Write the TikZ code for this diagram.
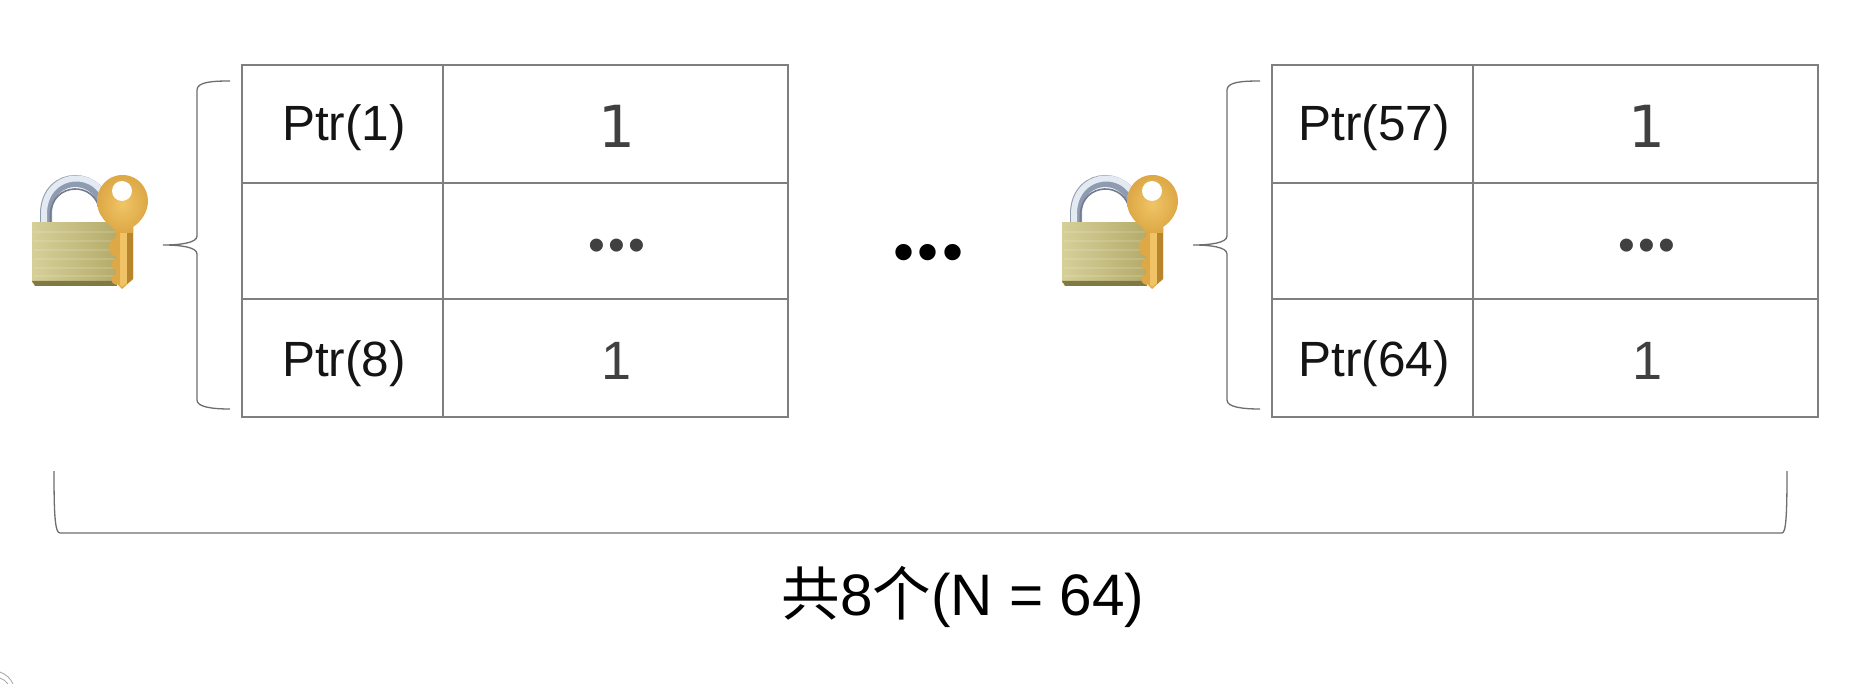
\documentclass[tikz,border=0pt]{standalone}
\usepackage{fontspec}
\setmainfont{Liberation Sans}
\newfontfamily\cjkfont{Noto Sans CJK SC}
\newfontfamily\dejafont{DejaVu Sans}
\usetikzlibrary{calc}
\definecolor{rulegrey}{HTML}{7F7F7F}
\definecolor{bracegrey}{HTML}{6E6E6E}
\definecolor{ink}{HTML}{404040}
\definecolor{goldA}{HTML}{F0C466}
\definecolor{goldB}{HTML}{DDA845}
\definecolor{goldC}{HTML}{B9852C}
\definecolor{brassA}{HTML}{D6CF98}
\definecolor{brassB}{HTML}{B4AB6A}
\definecolor{brassC}{HTML}{7F7A45}
\definecolor{steelA}{HTML}{E4EAF2}
\definecolor{steelB}{HTML}{8E9BB0}
\tikzset{
  x=1pt,y=-1pt,
  cell/.style={draw=none,inner sep=0pt,anchor=center},
  gridline/.style={draw=rulegrey,line width=1.5pt},
  bracket/.style={draw=bracegrey,line width=1.3pt},
  ptrtext/.style={cell,font=\fontsize{49.5}{49.5}\selectfont,text=black!92},
  bigone/.style={cell,font=\dejafont\fontsize{58}{58}\selectfont,text=ink},
  smallone/.style={cell,font=\fontsize{54}{54}\selectfont,text=ink},
  cdots/.style={cell,font=\fontsize{48}{48}\selectfont,text=ink},
  lockpic/.pic={
    % shackle
    \draw[line width=12pt,draw=steelB,line cap=butt] (46,226) -- (46,214) .. controls (46,170) and (104,170) .. (106,214);
    \draw[line width=6pt,draw=steelA,line cap=butt] (44,226) -- (44,214) .. controls (44,168) and (106,166) .. (108,212);
    \draw[line width=1.6pt,draw=steelB!80!black] (50.5,226) -- (50.5,214) .. controls (52,182) and (96,180) .. (100,212);
    % body
    \shade[left color=brassA,right color=brassB] (32,223) -- (117,223) -- (117,283) -- (32,283) -- cycle;
    \foreach \yy in {232,241,250,259,268,276}{\draw[white,opacity=.13,line width=1.2pt] (34,\yy) -- (115,\yy);}
    \fill[brassC] (32,281) -- (117,281) -- (117,286) -- (35,286) -- cycle;
    % teeth and key shaft
    \fill[goldB] (117,237) .. controls (106,240) and (106,254) .. (117,257) -- cycle;
    \fill[goldB] (117,259) .. controls (109,261) and (109,268) .. (117,270) -- cycle;
    \fill[goldB] (117,274) .. controls (109,276) and (109,283) .. (117,285) -- cycle;
    \fill[goldB] (116,225) -- (133,225) -- (133,279) -- (122,289) -- (116,283) -- cycle;
    \fill[goldA] (120,228) -- (127,228) -- (127,283) -- (122,287) -- (120,285) -- cycle;
    \fill[goldC] (127,228) -- (133,228) -- (133,279) -- (127,284) -- cycle;
    % key head
    \shade[inner color=goldA,outer color=goldB] (122.5,175) .. controls (138,175) and (148,188) .. (148,201) .. controls (148,212) and (141,222) .. (133,227) -- (133,233) -- (116,233) -- (112,227) .. controls (104,222) and (97,212) .. (97,201) .. controls (97,188) and (107,175) .. (122.5,175) -- cycle;
    \fill[white] (122,191) circle[radius=10pt];
  }
}
\begin{document}
\begin{tikzpicture}
\useasboundingbox (0,0) rectangle (1852,684);
\fill[white] (0,0) rectangle (1852,684);
\foreach \tag/\ox/\toptxt/\bottxt in {a/0/Ptr(1)/Ptr(8),b/1030/Ptr(57)/Ptr(64)}{
  \coordinate (\tag tl) at (242+\ox,65);
  \coordinate (\tag br) at (788+\ox,417);
  \draw[gridline,line join=miter] (\tag tl) rectangle (\tag br);
  \draw[gridline] (242+\ox,183) -- (788+\ox,183);
  \draw[gridline] (242+\ox,299) -- (788+\ox,299);
  \draw[gridline] (443+\ox,65) -- (443+\ox,417);
  \node[ptrtext] (\tag ptrtop) at (344+\ox,128) {\toptxt};
  \node[ptrtext] (\tag ptrbot) at (344+\ox,364) {\bottxt};
  \node[bigone] (\tag one) at (617+\ox,126) {1};
  \node[cdots] (\tag dots) at (617+\ox,250) {•\kern3.2pt•\kern3.2pt•};
  \node[smallone] (\tag onebot) at (617+\ox,361) {1};
  % brace
  \draw[bracket] (230+\ox,81) .. controls (212+\ox,81) and (197+\ox,82) .. (197+\ox,90)
     -- (197+\ox,236) .. controls (197+\ox,243) and (180+\ox,245) .. (163+\ox,245)
     .. controls (180+\ox,245) and (197+\ox,247) .. (197+\ox,254)
     -- (197+\ox,400) .. controls (197+\ox,407) and (212+\ox,409) .. (230+\ox,409);
  \pic at (\ox,0) {lockpic};
}
% middle ellipsis
\node[cell,font=\fontsize{60}{60}\selectfont,text=black] (middots) at (928.5,258) {•\kern3.5pt•\kern3.5pt•};
% total bracket
\coordinate (bl) at (54,471);
\coordinate (br) at (1787,471);
\draw[bracket] (bl) .. controls (54,515) and (55,533) .. (60,533) -- (1782,533) .. controls (1786,533) and (1787,515) .. (br);
\node[cell,font=\fontsize{58.5}{58.5}\selectfont,text=black] (total) at (963,597) {{\cjkfont 共}8{\cjkfont 个}(N = 64)};
% faint corner arcs
\draw[black!35,line width=.8pt] (0,672) .. controls (6,674) and (11,679) .. (13,684);
\draw[black!35,line width=.8pt] (0,678) .. controls (3,679) and (6,681) .. (8,684);
\end{tikzpicture}
\end{document}
